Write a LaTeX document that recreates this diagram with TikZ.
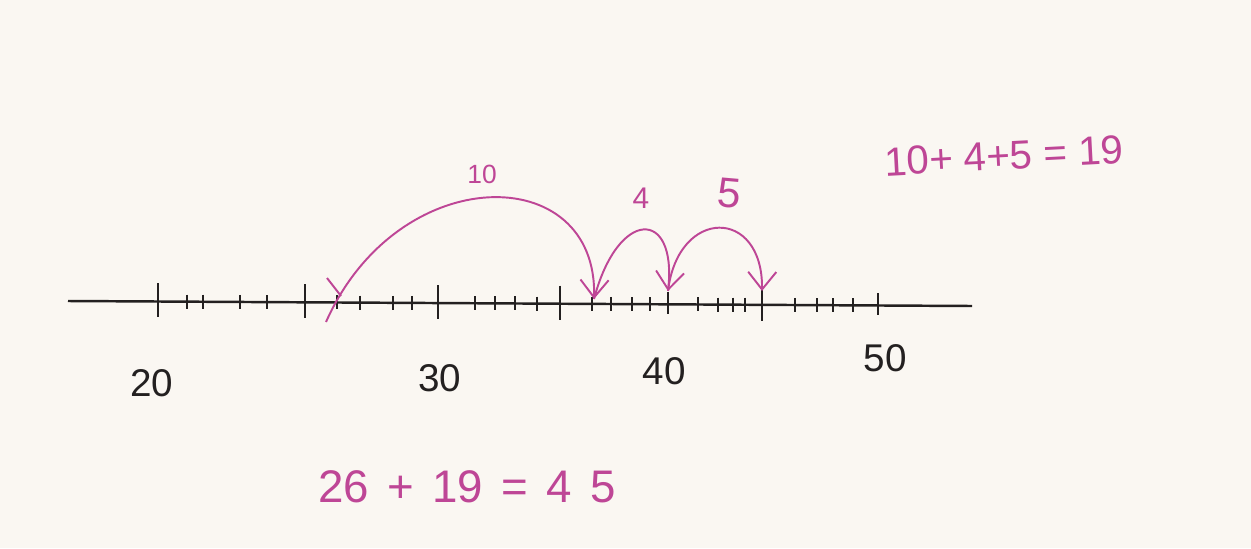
\documentclass[tikz,border=0pt]{standalone}
\usepackage{fontspec}
\setmainfont{Liberation Sans}
\usetikzlibrary{arrows.meta}

\definecolor{paper}{RGB}{250,247,242}
\definecolor{ink}{RGB}{35,32,32}
\definecolor{pen}{RGB}{190,70,150}

\begin{document}
\begin{tikzpicture}[x=0.02cm, y=-0.02cm, line width=1.4pt,
  jump/.style={pen, line width=1.1pt, -{Straight Barb[length=10pt,width=16pt]}},
  num/.style={ink, font=\fontsize{22}{22}\selectfont},
  sum/.style={pen, font=\fontsize{23}{23}\selectfont}]
  \fill[paper] (0,0) rectangle (1251,548);
  \useasboundingbox (0,0) rectangle (1251,548);

  % number line, drawn by hand so the ticks are uneven
  \coordinate (L) at (68,301);
  \coordinate (R) at (972,306);
  \draw[ink] (L) -- (R);
  \foreach \v/\x in {20/158,21/187,22/203,23/240,24/267,25/305,26/337,27/360,
      28/393,29/412,30/438,31/475,32/495,33/515,34/537,35/560,36/592,37/611,
      38/632,39/650,40/668,41/698,42/718,43/733,44/745,45/762,46/795,47/817,
      48/833,49/853,50/878}
    \coordinate (t\v) at (\x,{301+0.0055*(\x-68)});
  \foreach \v in {21,22,23,24,26,27,28,29,31,32,33,34,36,37,38,39,41,42,43,44,46,47,48,49}
    \draw[ink] (t\v) ++(0,-7) -- ++(0,14);
  \foreach \v in {20,25,30,35,45}
    \draw[ink] (t\v) ++(0,-18) -- ++(0,34);
  \foreach \v in {40,50}
    \draw[ink] (t\v) ++(0,-12) -- ++(0,22);

  \node[num] (l20) at (152,383) {20};
  \node[num] (l30) at (440,378) {30};
  \node[num] (l40) at (664,371) {40};
  \node[num] (l50) at (885,358) {50};

  % jumps 26 -> 36 -> 40 -> 45
  \coordinate (s26) at (326,322);
  \coordinate (e36) at (594,299);
  \coordinate (e40) at (668,291);
  \coordinate (e45) at (762,291);
  \draw[jump] (s26) .. controls (398,160) and (598,160) .. (e36);
  \draw[jump] (e36) .. controls (618,208) and (677,208) .. (e40);
  \draw[jump] (e40) .. controls (678,207) and (763,207) .. (e45);
  \draw[pen, line width=1.1pt] (327,278) -- (341,296);

  \node[pen, font=\fontsize{15}{15}\selectfont] (j10) at (482,174) {10};
  \node[pen, font=\fontsize{17}{17}\selectfont] (j4) at (641,198) {4};
  \node[pen, font=\fontsize{24}{24}\selectfont, rotate=-5] (j5) at (729,193) {5};

  \node[sum, rotate=3] (sumjumps) at (1004,156) {10+ 4+5 = 19};
  \node[pen, font=\fontsize{26}{26}\selectfont] (answer) at (467,487)
    {26\hspace{0.4em}+\hspace{0.4em}19\hspace{0.4em}=\hspace{0.4em}4\hspace{0.4em}5};
\end{tikzpicture}
\end{document}
